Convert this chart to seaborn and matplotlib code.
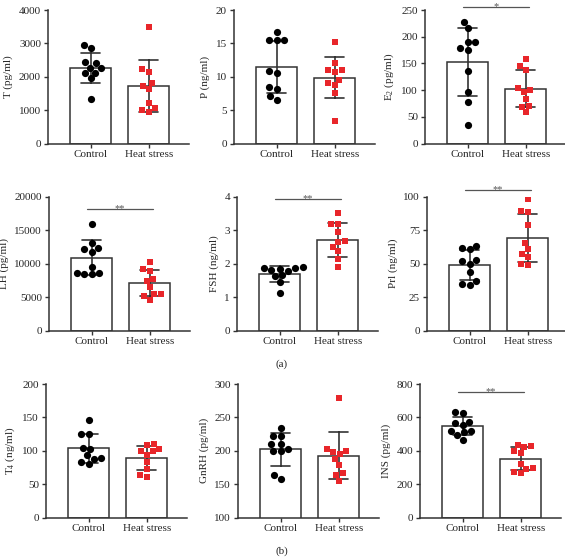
import numpy as np
import pandas as pd
import matplotlib.pyplot as plt
import seaborn as sns

groups = ['Control', 'Heat stress']

# (a) serum hormones, 10 birds per group
t_control = [2950, 2850, 2400, 2430, 2250, 2270, 2100, 2120, 1950, 1320]
t_heat = [3480, 2220, 2150, 1800, 1720, 1620, 1220, 1050, 950, 1000]
p_control = [16.65, 15.5, 15.5, 15.5, 10.9, 10.5, 8.5, 8.1, 7.15, 6.5]
p_heat = [15.25, 12.1, 11.0, 11.0, 10.75, 9.5, 9.1, 8.75, 7.6, 3.4]
e2_control = [228, 216, 190, 191, 175, 178, 136, 97, 78, 34]
e2_heat = [159, 145, 138, 103, 96, 100, 84, 71, 69, 59]
lh_control = [15920, 13180, 12190, 11790, 12390, 9550, 8560, 8410, 8410, 8660]
lh_heat = [10200, 9250, 8950, 7460, 7660, 6570, 5420, 5420, 4580, 5100]
fsh_control = [1.90, 1.88, 1.87, 1.85, 1.80, 1.78, 1.65, 1.62, 1.45, 1.11]
fsh_heat = [3.53, 3.18, 3.18, 2.96, 2.69, 2.66, 2.51, 2.37, 2.14, 1.89]
prl_control = [62, 60.75, 63.25, 52, 50, 52.5, 43.75, 36.75, 34.25, 34.75]
prl_heat = [98.75, 88.75, 89.25, 78.75, 65.75, 61.25, 57.5, 55, 50, 48.75]

# (b)
t4_control = [145.7, 124.6, 125.6, 103, 104, 93, 88, 89, 80.4, 83]
t4_heat = [110.5, 108, 99.5, 99, 102, 94, 83, 73, 64, 61]
gnrh_control = [234, 210.5, 210.5, 221.6, 221.6, 200, 199, 202.5, 163.8, 157.3]
gnrh_heat = [279.4, 203, 200, 195, 197.5, 187.4, 179, 166.3, 163.8, 154.8]
ins_control = [631, 627, 567, 575, 555, 521, 511, 495, 467, 521]
ins_heat = [435, 421, 431, 401, 387, 321, 291, 297, 265, 275]

# label, control, heat, (ymin, ymax, step), significance, line height
panels = [
    ('T (pg/ml)', t_control, t_heat, (0, 4000, 1000), None, None),
    ('P (ng/ml)', p_control, p_heat, (0, 20, 5), None, None),
    ('E$_2$ (pg/ml)', e2_control, e2_heat, (0, 250, 50), '*', 255.5),
    ('LH (pg/ml)', lh_control, lh_heat, (0, 20000, 5000), '**', 18200),
    ('FSH (ng/ml)', fsh_control, fsh_heat, (0, 4, 1), '**', 3.93),
    ('Prl (ng/ml)', prl_control, prl_heat, (0, 100, 25), '**', 105.5),
    ('T$_4$ (ng/ml)', t4_control, t4_heat, (0, 200, 50), None, None),
    ('GnRH (pg/ml)', gnrh_control, gnrh_heat, (100, 300, 50), None, None),
    ('INS (pg/ml)', ins_control, ins_heat, (0, 800, 200), '**', 750),
]

sns.set_style('ticks')
plt.rcParams['font.family'] = ['Liberation Serif', 'DejaVu Serif']
plt.rcParams['mathtext.fontset'] = 'custom'
plt.rcParams['mathtext.rm'] = 'Liberation Serif'
plt.rcParams['mathtext.default'] = 'regular'

W, H = 565, 558
fig = plt.figure(figsize=(W / 100, H / 100), dpi=100)

# axes left edge / top edge in pixels
lefts = [48, 234, 425, 49, 237, 427, 46, 238, 420]
tops = [10, 10, 10, 197, 197, 197, 384, 384, 384]
aw, ah = 141, 133.5

line_c = '#333333'
red = '#e8262a'

for i, (label, ctrl, heat, yr, sig, sig_y) in enumerate(panels):
    ax = fig.add_axes([lefts[i] / W, 1 - (tops[i] + ah) / H, aw / W, ah / H])
    df = pd.DataFrame({'group': ['Control'] * len(ctrl) + ['Heat stress'] * len(heat),
                       'value': ctrl + heat})
    sns.barplot(data=df, x='group', y='value', order=groups, ax=ax,
                errorbar='sd', capsize=0.33, width=0.7, color='white',
                edgecolor=line_c, linewidth=1.1,
                err_kws={'color': line_c, 'linewidth': 1.2})
    sns.swarmplot(data=df[df.group == 'Control'], x='group', y='value', order=groups,
                  ax=ax, color='black', marker='o', size=5.2, zorder=3)
    sns.swarmplot(data=df[df.group == 'Heat stress'], x='group', y='value', order=groups,
                  ax=ax, color=red, marker='s', size=4.8, zorder=3)
    ax.set_xlim(-0.73, 1.69)
    ax.set_ylim(yr[0], yr[1])
    ax.set_yticks(np.arange(yr[0], yr[1] + yr[2] / 2, yr[2]))
    ax.set_xlabel('')
    ax.set_ylabel(label, fontsize=8, labelpad=4)
    ax.tick_params(labelsize=8, length=3, width=1, color=line_c, pad=2)
    for s in ['left', 'bottom']:
        ax.spines[s].set_color(line_c)
        ax.spines[s].set_linewidth(1.1)
    sns.despine(ax=ax)
    if sig:
        ax.plot([-0.07, 1.05], [sig_y, sig_y], color='#555555', lw=0.9, clip_on=False)
        ax.annotate(sig, (0.49, sig_y), xytext=(0, -1.5), textcoords='offset points',
                    ha='center', va='baseline', fontsize=7.5, color='#555555',
                    annotation_clip=False)

fig.text(282 / W, 1 - 364 / H, '(a)', ha='center', va='center', fontsize=8)
fig.text(282 / W, 1 - 551 / H, '(b)', ha='center', va='center', fontsize=8)

fig.savefig('out.png', dpi=100)
